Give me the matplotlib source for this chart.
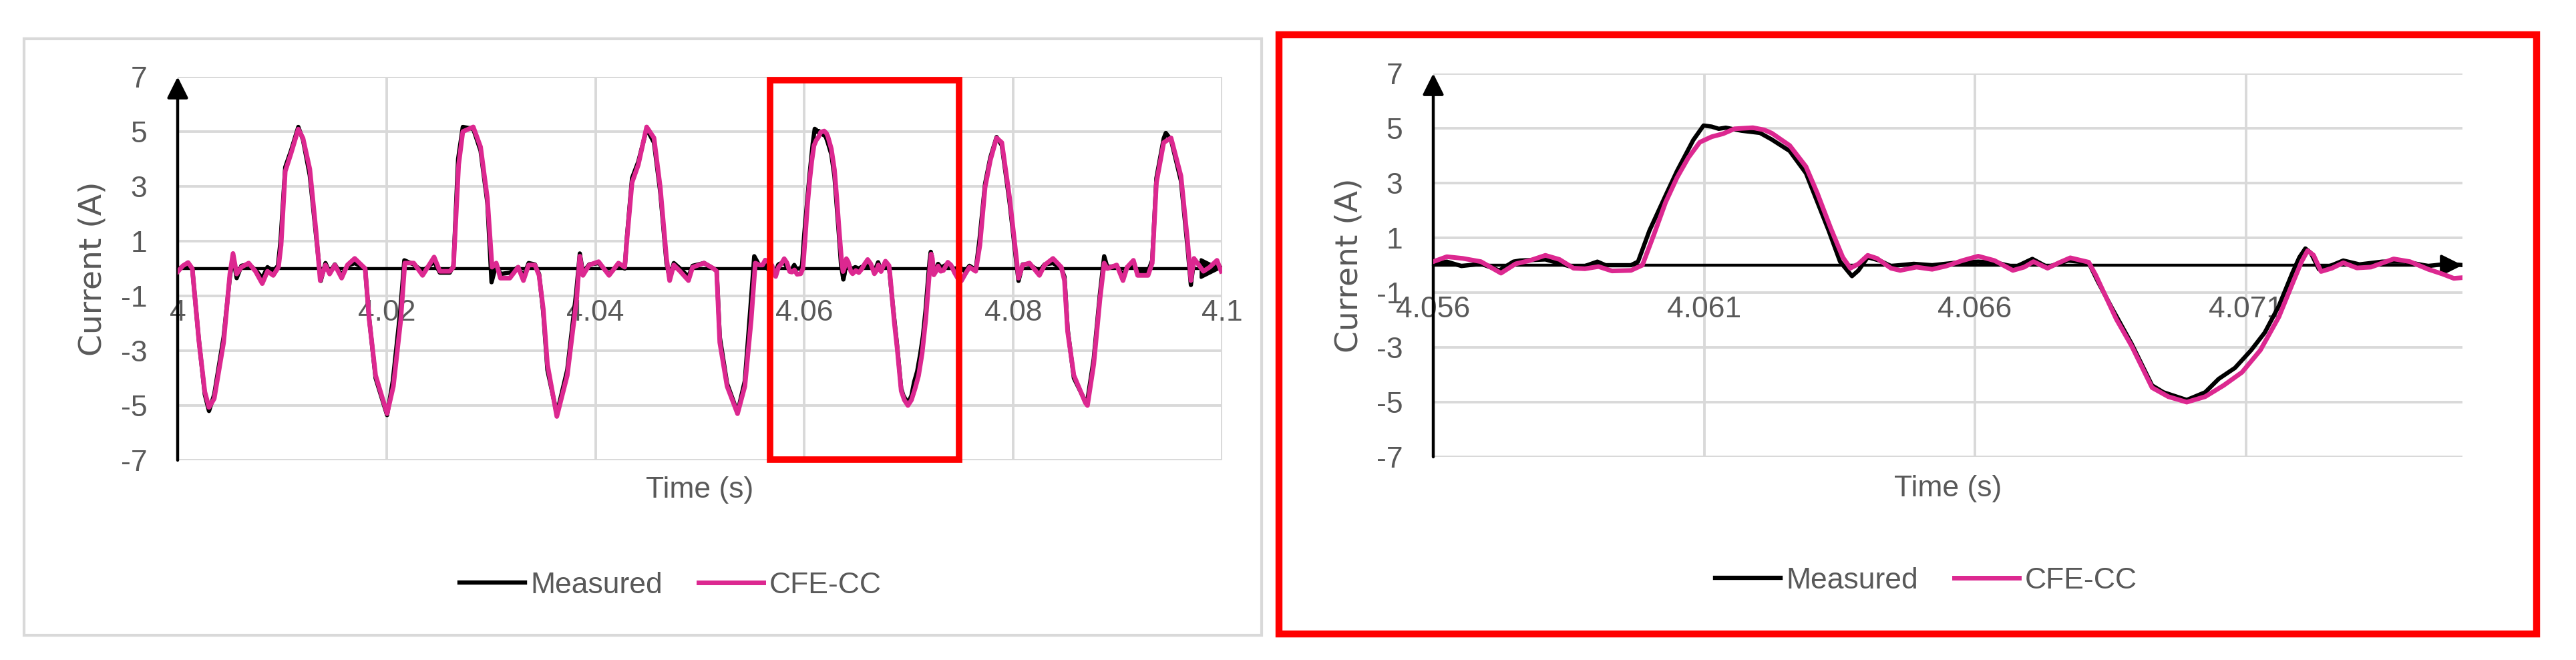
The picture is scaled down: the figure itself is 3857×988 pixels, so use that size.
import matplotlib
matplotlib.use("Agg")
import matplotlib.pyplot as plt
from matplotlib.patches import Rectangle
import numpy as np

# Measured current, time in ms after 4 s
meas_ms = [0.0, 0.5, 1.0, 1.4, 2.0, 2.6, 3.0, 3.5, 4.4, 5.0, 5.3, 5.65, 6.1, 6.8, 7.45, 8.1, 8.6, 9.15,
           9.6, 9.85, 10.3, 10.85, 11.55, 12.0, 12.65, 13.25, 13.7, 14.15, 14.55, 15.05, 15.7, 16.25, 16.95,
           17.95, 18.3, 18.95, 20.05, 20.6, 21.3, 21.7, 22.6, 23.45, 24.55, 25.1, 26.05, 26.4, 26.85, 27.3,
           28.3, 29.0, 29.65, 30.05, 30.5, 30.9, 31.8, 32.6, 33.1, 33.6, 34.2, 34.6, 35.0, 35.4, 36.3, 37.3,
           38.15, 38.5, 38.8, 39.4, 40.3, 41.3, 42.2, 42.8, 43.0, 43.5, 44.1, 44.9, 45.6, 46.2, 46.8, 47.1,
           47.5, 48.1, 48.9, 49.3, 50.4, 51.3, 51.6, 51.9, 52.6, 53.6, 54.3, 54.8, 55.2, 55.7,
           56.0, 56.25, 56.52, 56.88, 57.22, 57.48, 57.6, 58.07, 58.5, 58.8, 59.03, 59.18, 59.65, 59.78,
           59.99, 60.29, 60.5, 60.8, 60.99, 61.14, 61.27, 61.4, 61.69, 62.03, 62.24, 62.58, 62.88, 63.3,
           63.51, 63.73, 63.85, 64.02, 64.24, 64.45, 64.87, 65.21, 65.64, 66.06, 66.4, 66.74, 67.06, 67.34,
           67.72, 68.1, 68.27, 68.53, 68.89, 69.27, 69.48, 69.91, 70.25, 70.5, 70.8, 71.1, 71.35, 71.61,
           71.86, 71.99, 72.1, 72.2, 72.35, 72.59, 72.8, 73.1, 73.52, 73.94, 74.37, 74.71, 75.03,
           75.4, 75.8, 76.4, 76.75, 77.3, 77.8, 78.4, 78.9, 79.65, 80.3, 80.5, 80.9, 81.55, 82.5, 83.0,
           83.8, 84.6, 84.9, 85.2, 85.8, 86.9, 87.1, 87.7, 88.3, 88.7, 89.0, 89.9, 90.5, 90.9, 91.5, 91.9,
           92.9, 93.3, 93.7, 94.4, 94.6, 95.1, 96.05, 96.7, 97.0, 97.3, 98.2, 98.8, 99.5, 99.9]
meas_a = [0.0, 0.05, 0.15, 0.0, -2.5, -4.6, -5.2, -4.6, -2.5, -0.3, 0.45, -0.35, 0.1, 0.15, -0.05, -0.35, 0.05, -0.1,
          0.1, 1.0, 3.7, 4.3, 5.17, 4.7, 3.4, 1.2, -0.45, 0.2, -0.15, 0.15, -0.25, 0.1, 0.2,
          0.0, -1.7, -4.0, -5.35, -4.1, -1.6, 0.3, 0.15, -0.1, 0.25, -0.15, -0.15, 0.1, 4.0, 5.17,
          5.1, 4.3, 2.4, -0.5, 0.15, -0.2, -0.15, 0.05, -0.3, 0.2, 0.15, -0.2, -1.6, -3.7, -5.3, -3.7,
          -0.9, 0.55, -0.15, 0.15, 0.2, -0.2, 0.15, 0.0, 1.1, 3.3, 3.9, 5.1, 4.6, 2.8, 0.2, -0.35,
          0.2, 0.0, -0.3, 0.1, 0.2, 0.0, -0.05, -2.5, -4.2, -5.25, -4.1, -1.6, 0.45, 0.1,
          0.05, 0.13, -0.03, 0.05, -0.19, 0.13, 0.17, 0.21, -0.03, -0.03, 0.13, 0.0, 0.0, 0.13,
          1.26, 2.55, 3.44, 4.57, 5.1, 5.06, 4.98, 5.02, 4.91, 4.83, 4.6, 4.17, 3.36, 1.26,
          0.13, -0.4, -0.19, 0.29, 0.17, -0.03, 0.05, 0.0, 0.09, 0.13, 0.09, -0.07, 0.23, -0.07,
          0.17, 0.09, -0.6, -1.57, -2.86, -4.39, -4.64, -4.92, -4.64, -4.15, -3.75, -3.1, -2.46, -1.49,
          -0.28, 0.29, 0.61, 0.45, -0.15, 0.0, 0.17, 0.03, 0.13, 0.13, -0.03, 0.05, 0.0,
          -0.1, 0.1, -0.05, 1.0, 3.1, 4.05, 4.8, 4.5, 2.4, 0.2, -0.45, 0.15, 0.15, -0.1, 0.15,
          0.2, 0.0, -0.3, -2.2, -4.0, -4.85, -4.8, -3.3, -0.9, 0.45, 0.05, 0.1, -0.25, 0.05, 0.15, -0.1,
          -0.1, 0.3, 3.3, 4.75, 4.95, 4.7, 3.2, 0.7, -0.6, 0.3, 0.05, 0.1, 0.2, 0.0]

# CFE-CC model current
cfe_ms = [0.0, 0.5, 1.0, 1.4, 2.05, 2.6, 3.0, 3.5, 4.4, 5.0, 5.3, 5.65, 6.1, 6.8, 7.45, 8.1, 8.6, 9.15,
          9.65, 9.9, 10.3, 10.85, 11.55, 12.0, 12.65, 13.25, 13.65, 14.15, 14.55, 15.05, 15.7, 16.25, 16.95,
          17.95, 18.35, 18.95, 20.05, 20.65, 21.35, 21.75, 22.6, 23.45, 24.55, 25.1, 26.05, 26.4, 26.9, 27.3,
          28.3, 29.0, 29.65, 30.1, 30.5, 30.9, 31.8, 32.6, 33.1, 33.6, 34.2, 34.6, 35.0, 35.4, 36.3, 37.3,
          38.2, 38.5, 38.8, 39.4, 40.3, 41.3, 42.2, 42.8, 43.0, 43.5, 44.1, 44.9, 45.6, 46.2, 46.8, 47.1,
          47.5, 48.1, 48.9, 49.3, 50.4, 51.3, 51.6, 51.9, 52.6, 53.6, 54.3, 54.9, 55.3, 55.7,
          56.0, 56.25, 56.54, 56.88, 57.25, 57.52, 57.78, 58.07, 58.33, 58.59, 58.8, 59.05, 59.3, 59.65,
          59.86, 60.07, 60.29, 60.5, 60.71, 60.92, 61.14, 61.35, 61.56, 61.9, 62.11, 62.25, 62.58, 62.88,
          63.09, 63.34, 63.56, 63.7, 63.85, 64.02, 64.19, 64.45, 64.62, 64.92, 65.21, 65.47, 65.77, 66.06,
          66.36, 66.7, 66.91, 67.08, 67.34, 67.55, 67.76, 68.1, 68.23, 68.4, 68.61, 68.89, 69.27, 69.57,
          69.91, 70.25, 70.59, 70.93, 71.27, 71.61, 71.86, 72.03, 72.14, 72.25, 72.39, 72.59, 72.8, 73.05,
          73.31, 73.73, 74.03, 74.37, 74.63, 74.84, 75.03,
          75.4, 75.8, 76.4, 76.8, 77.3, 77.8, 78.4, 78.9, 79.65, 80.3, 80.5, 80.9, 81.55, 82.5, 83.0,
          83.8, 84.6, 84.9, 85.2, 85.8, 86.9, 87.1, 87.7, 88.3, 88.7, 89.0, 89.9, 90.5, 90.9, 91.5, 91.9,
          92.9, 93.3, 93.7, 94.4, 95.1, 96.05, 96.7, 97.0, 97.3, 98.2, 98.8, 99.5, 99.9]
cfe_a = [-0.12, 0.1, 0.22, 0.0, -2.7, -4.5, -5.07, -4.75, -2.7, -0.2, 0.55, -0.2, 0.05, 0.2, -0.1, -0.55, -0.1, -0.25,
         0.05, 0.85, 3.55, 4.2, 5.09, 4.76, 3.63, 1.35, -0.44, 0.13, -0.2, 0.13, -0.35, 0.13, 0.37,
         0.0, -1.9, -3.9, -5.3, -4.3, -1.9, 0.2, 0.2, -0.25, 0.42, -0.1, -0.1, 0.05, 3.79, 5.0,
         5.17, 4.44, 2.57, 0.05, 0.2, -0.35, -0.35, 0.05, -0.44, 0.13, 0.13, -0.25, -1.47, -3.5, -5.4, -3.9,
         -1.1, 0.45, -0.25, 0.13, 0.25, -0.25, 0.2, 0.05, 1.0, 3.14, 3.79, 5.17, 4.77, 2.97, 0.37, -0.44,
         0.13, -0.1, -0.44, 0.05, 0.2, 0.0, -0.1, -2.7, -4.3, -5.3, -4.3, -1.9, 0.2, 0.13,
         0.13, 0.31, 0.25, 0.13, -0.29, 0.05, 0.17, 0.36, 0.21, -0.11, -0.13, -0.05, -0.21, -0.19,
         0.0, 1.1, 2.3, 3.2, 3.93, 4.49, 4.69, 4.8, 4.98, 5.02, 4.94, 4.82, 4.37, 3.6,
         2.63, 1.34, 0.29, -0.11, 0.05, 0.36, 0.25, -0.11, -0.19, -0.07, -0.15, -0.03, 0.17, 0.33,
         0.17, -0.19, -0.07, 0.13, -0.11, 0.09, 0.27, 0.11, -0.36, -1.08, -1.97, -2.94, -4.47, -4.8,
         -5.0, -4.8, -4.39, -3.91, -3.1, -1.89, -0.68, 0.13, 0.53, 0.37, -0.23, -0.11, 0.09, -0.1,
         -0.07, 0.23, 0.13, -0.15, -0.32, -0.48, -0.45,
         -0.2, 0.05, -0.1, 0.85, 2.97, 3.95, 4.77, 4.6, 2.57, 0.37, -0.35, 0.13, 0.2, -0.25, 0.13,
         0.37, 0.05, -0.44, -2.3, -3.9, -4.9, -5.0, -3.5, -1.1, 0.2, 0.0, 0.13, -0.44, 0.05, 0.3, -0.25,
         -0.25, 0.2, 3.14, 4.6, 4.77, 3.38, 0.94, -0.44, 0.37, -0.1, 0.05, 0.3, -0.1]

left_ticks = [4.0, 4.02, 4.04, 4.06, 4.08, 4.1]
left_labels = ["4", "4.02", "4.04", "4.06", "4.08", "4.1"]
right_ticks = [4.056, 4.061, 4.066, 4.071]
right_labels = ["4.056", "4.061", "4.066", "4.071"]
y_ticks = [-7, -5, -3, -1, 1, 3, 5, 7]

t_meas = 4.0 + np.array(meas_ms) / 1000
t_cfe = 4.0 + np.array(cfe_ms) / 1000

W, H = 3857, 988
GRAY = "#595959"
PINK = "#DC2890"
plt.rcParams["font.family"] = ["Liberation Sans", "DejaVu Sans"]
plt.rcParams["axes.unicode_minus"] = False

fig = plt.figure(figsize=(W / 100, H / 100), dpi=100)


def draw_panel(ax, xmin, xmax, ticks, labels, xlab_y, ylab_x):
    ax.set_xlim(xmin, xmax)
    ax.set_ylim(-7, 7)
    ax.set_xticks(ticks)
    ax.set_xticklabels(labels)
    ax.set_yticks(y_ticks)
    for s in ax.spines.values():
        s.set_visible(False)
    ax.spines["bottom"].set_position(("data", 0))
    ax.tick_params(axis="both", length=0, labelsize=32, colors=GRAY)
    ax.tick_params(axis="x", pad=33)
    ax.tick_params(axis="y", pad=33)
    ax.grid(True, color="#d9d9d9", lw=2.8)
    ax.set_axisbelow(True)

    # axis lines with arrow heads
    arrow = dict(arrowstyle="-|>", color="black", lw=3.2, shrinkA=0, shrinkB=0, mutation_scale=48)
    ax.annotate("", xy=(xmax, 0), xytext=(xmin, 0), arrowprops=arrow, annotation_clip=False, zorder=2.5)
    ax.annotate("", xy=(xmin, 7), xytext=(xmin, -7), arrowprops=arrow, annotation_clip=False, zorder=2.5)

    l1, = ax.plot(t_meas, meas_a, color="black", lw=4.6, zorder=3, label="Measured")
    l2, = ax.plot(t_cfe, cfe_a, color=PINK, lw=5, zorder=4, label="CFE-CC")

    ax.text(0.5, xlab_y, "Time (s)", transform=ax.transAxes, ha="center", va="center",
            fontsize=32, color=GRAY)
    ax.text(ylab_x, 0.5, "Current (A)", transform=ax.transAxes, ha="center", va="center",
            rotation=90, fontsize=34, color=GRAY, family=["DejaVu Sans"])
    return [l1, l2]


axL = fig.add_axes([266 / W, 1 - 689 / H, 1564 / W, 574 / H])
hL = draw_panel(axL, 4.0, 4.1, left_ticks, left_labels, -0.078, -0.081)
axR = fig.add_axes([2146 / W, 1 - 684 / H, 1541 / W, 574 / H])
hR = draw_panel(axR, 4.056, 4.075, right_ticks, right_labels, -0.082, -0.082)

# zoom window marked on the left chart
axL.add_patch(Rectangle((4.0567, -6.98), 0.0181, 13.86, fill=False, edgecolor="#FF0000",
                        lw=7, zorder=5, clip_on=False))

# chart frames
fig.patches.append(Rectangle((36 / W, 1 - 951 / H), 1853 / W, 893 / H, transform=fig.transFigure,
                             fill=False, edgecolor="#d9d9d9", lw=3))
fig.patches.append(Rectangle((1915 / W, 1 - 949 / H), 1883 / W, 897 / H, transform=fig.transFigure,
                             fill=False, edgecolor="#FF0000", lw=7.5))

for handles, cx, cy in [(hL, 1004, 876), (hR, 2884, 869)]:
    fig.legend(handles, [h.get_label() for h in handles], loc="center", bbox_to_anchor=(cx / W, 1 - cy / H),
               ncol=2, frameon=False, fontsize=32, labelcolor=GRAY, handlelength=2.2,
               handletextpad=0.2, columnspacing=1.2)

fig.savefig("out.png", dpi=100)
